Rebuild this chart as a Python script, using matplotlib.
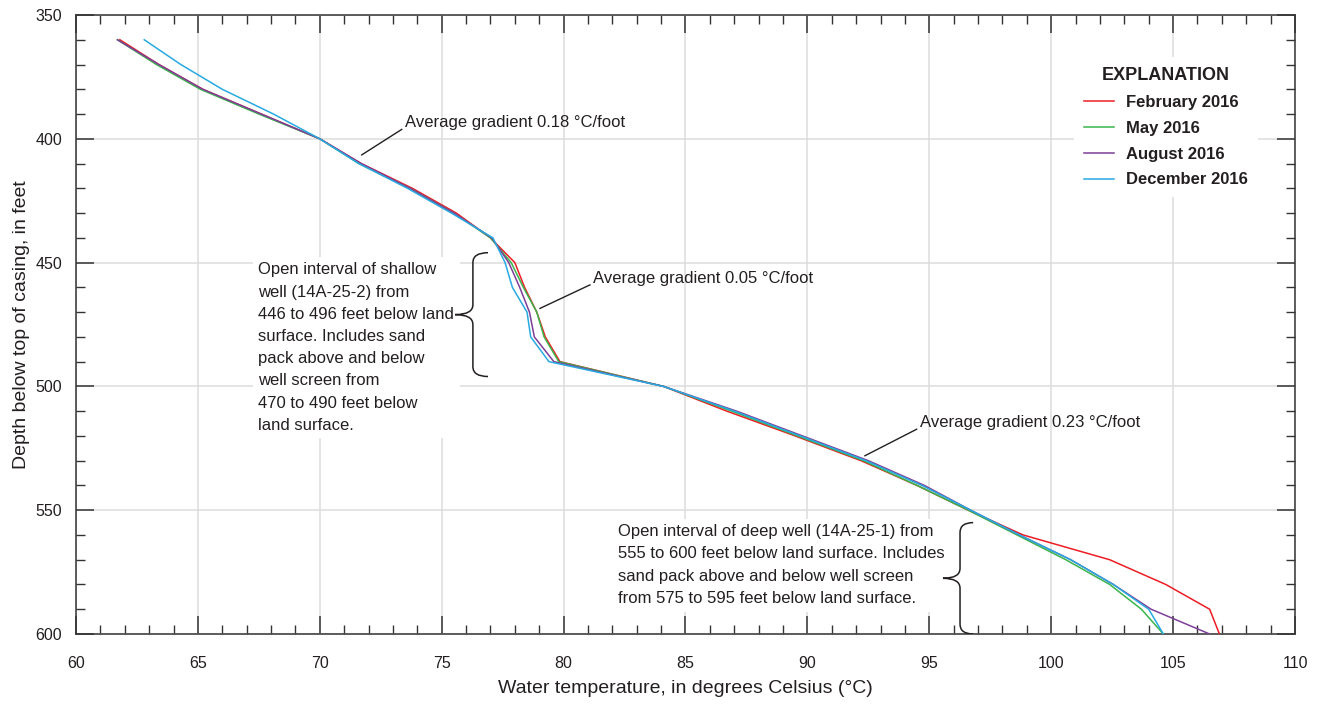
import numpy as np
import matplotlib
matplotlib.use("Agg")
import matplotlib.pyplot as plt
from matplotlib.path import Path
from matplotlib.patches import PathPatch

plt.rcParams['font.family'] = ['Liberation Sans', 'DejaVu Sans']

# depth below top of casing (ft) and temperatures (deg C) for each survey
depth = [360, 370, 380, 390, 400, 410, 420, 430, 440, 450, 460, 470, 480, 490,
         500, 510, 520, 530, 540, 550, 560, 570, 580, 590, 600]
feb = [61.8, 63.4, 65.2, 67.6, 70.0, 71.7, 73.8, 75.6, 77.0, 78.0, 78.4, 78.9, 79.25, 79.85,
       84.1, 86.7, 89.5, 92.2, 94.5, 96.6, 98.85, 102.4, 104.7, 106.5, 106.9]
may = [61.7, 63.3, 65.1, 67.5, 70.0, 71.6, 73.7, 75.5, 77.0, 77.85, 78.35, 78.9, 79.2, 79.8,
       84.1, 86.9, 89.6, 92.3, 94.5, 96.6, 98.6, 100.6, 102.4, 103.7, 104.6]
aug = [61.7, 63.4, 65.2, 67.6, 70.0, 71.7, 73.7, 75.5, 77.05, 77.75, 78.2, 78.6, 78.8, 79.6,
       84.1, 87.1, 89.8, 92.5, 94.8, 96.7, 98.7, 100.8, 102.55, 104.1, 106.5]
dec = [62.8, 64.3, 66.0, 68.1, 70.0, 71.6, 73.6, 75.4, 77.1, 77.6, 77.9, 78.5, 78.65, 79.4,
       84.1, 87.0, 89.7, 92.4, 94.7, 96.7, 98.7, 100.8, 102.55, 104.0, 104.6]

series = [("February 2016", feb, "#ed1c24"),
          ("May 2016", may, "#39b54a"),
          ("August 2016", aug, "#7d3f98"),
          ("December 2016", dec, "#27aae1")]

shallow_interval = (446, 496)
deep_interval = (555, 600)

txt = "#231f20"
fs = 12          # annotation text
fs_tick = 11.5
fs_lab = 14

fig = plt.figure(figsize=(13.17, 7.08), dpi=100)
ax = fig.add_axes([0.0577, 0.1045, 0.9256, 0.8743])

for label, temps, color in series:
    ax.plot(temps, depth, color=color, lw=1.1, label=label, zorder=3)

ax.set_xlim(60, 110)
ax.set_ylim(600, 350)
ax.set_xticks(np.arange(60, 111, 5))
ax.set_xticks(np.arange(60, 111, 1), minor=True)
ax.set_yticks(np.arange(350, 601, 50))
ax.set_yticks(np.arange(350, 601, 10), minor=True)
ax.grid(True, which='major', color='#dcdcdc', lw=1.1, zorder=0)
ax.set_axisbelow(True)
for s in ax.spines.values():
    s.set_color('#333333')
    s.set_linewidth(1.1)
ax.tick_params(which='both', direction='in', top=True, right=True, color='#333333',
               labelcolor=txt, labelsize=fs_tick)
ax.tick_params(which='major', length=13, width=1.1)
ax.tick_params(which='minor', length=6.5, width=1.0)
ax.tick_params(axis='y', pad=10)
ax.tick_params(axis='x', pad=16)

ax.set_xlabel("Water temperature, in degrees Celsius (°C)", fontsize=fs_lab, color=txt, labelpad=6)
ax.set_ylabel("Depth below top of casing, in feet", fontsize=fs_lab, color=txt, labelpad=4)

# leader lines and gradient labels
def gradient_note(x0, y0, x1, y1, text):
    ax.plot([x0, x1], [y0, y1], color=txt, lw=1.0, zorder=4)
    ax.text(x1 + 0.13, y1 - 2.7, text, fontsize=fs, color=txt, va='center', ha='left', zorder=5)

gradient_note(71.72, 406.5, 73.36, 396.2, "Average gradient 0.18 °C/foot")
gradient_note(79.03, 468.5, 81.08, 459.0, "Average gradient 0.05 °C/foot")
gradient_note(92.36, 528.0, 94.48, 517.3, "Average gradient 0.23 °C/foot")

def brace(x_stem, x_tip, x_end, y0, y1, r=4.0):
    ym = (y0 + y1) / 2
    verts = [(x_end, y0), (x_stem, y0), (x_stem, y0 + r),
             (x_stem, ym - r), (x_stem, ym), (x_tip, ym),
             (x_stem, ym), (x_stem, ym + r),
             (x_stem, y1 - r), (x_stem, y1), (x_end, y1)]
    codes = [Path.MOVETO, Path.CURVE3, Path.CURVE3,
             Path.LINETO, Path.CURVE3, Path.CURVE3,
             Path.CURVE3, Path.CURVE3,
             Path.LINETO, Path.CURVE3, Path.CURVE3]
    ax.add_patch(PathPatch(Path(verts, codes), fc='none', ec=txt, lw=1.1, zorder=7))

shallow_text = ("Open interval of shallow\nwell (14A-25-2) from\n446 to 496 feet below land\n"
                "surface. Includes sand\npack above and below\nwell screen from\n"
                "470 to 490 feet below\nland surface.")
ax.text(67.48, 484.3, shallow_text, fontsize=fs, color=txt, va='center', ha='left',
        linespacing=1.6, zorder=5,
        bbox=dict(facecolor='white', edgecolor='none', pad=4))
brace(76.28, 75.55, 76.9, *shallow_interval)

deep_text = ("Open interval of deep well (14A-25-1) from\n555 to 600 feet below land surface. Includes\n"
             "sand pack above and below well screen\nfrom 575 to 595 feet below land surface.")
ax.text(82.23, 572.2, deep_text, fontsize=fs, color=txt, va='center', ha='left',
        linespacing=1.62, zorder=5,
        bbox=dict(facecolor='white', edgecolor='none', pad=4))
brace(96.26, 95.56, 96.8, *deep_interval)

leg = ax.legend(loc='upper left', bbox_to_anchor=(1074 / 1317, 1 - 57 / 708),
                bbox_transform=fig.transFigure, borderaxespad=0, frameon=True,
                title="EXPLANATION", fontsize=fs, handlelength=1.8, handletextpad=0.7,
                labelspacing=0.65, borderpad=0.6)
leg.get_frame().set_facecolor('white')
leg.get_frame().set_edgecolor('none')
leg.get_frame().set_alpha(1)
leg.set_zorder(6)
leg.get_title().set_fontweight('bold')
leg.get_title().set_fontsize(13)
leg.get_title().set_color(txt)
for t in leg.get_texts():
    t.set_fontweight('bold')
    t.set_color(txt)

fig.savefig("out.png", dpi=100)
